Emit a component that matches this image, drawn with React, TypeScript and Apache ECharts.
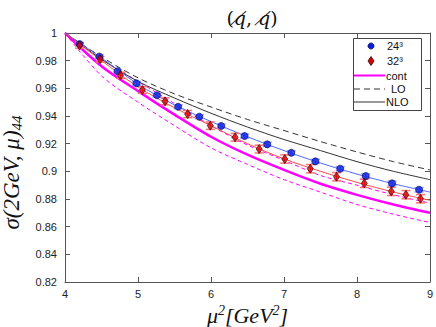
import React, { useEffect, useRef } from "react";
import * as echarts from "echarts";

const xCurve = [4, 4.5, 5, 5.5, 6, 6.5, 7, 7.5, 8, 8.5, 9];
const contMid = [1.0, 0.976, 0.958, 0.941, 0.925, 0.912, 0.901, 0.891, 0.883, 0.876, 0.87];
const contLow = [1.0, 0.969, 0.95, 0.933, 0.917, 0.905, 0.894, 0.885, 0.876, 0.869, 0.863];
const contHigh = [1.0, 0.981, 0.965, 0.949, 0.933, 0.919, 0.908, 0.897, 0.89, 0.883, 0.877];
const loCurve = [1.0, 0.9827, 0.9676, 0.956, 0.9465, 0.9375, 0.9295, 0.9215, 0.914, 0.907, 0.901];
const nloCurve = [1.0, 0.981, 0.965, 0.953, 0.942, 0.932, 0.923, 0.915, 0.907, 0.9, 0.894];
const fit24 = [1.0, 0.982, 0.963, 0.948, 0.936, 0.925, 0.915, 0.906, 0.898, 0.891, 0.885];
const fit32 = [1.0, 0.98, 0.961, 0.946, 0.933, 0.92, 0.909, 0.9, 0.892, 0.885, 0.879];

const x24 = [4.2, 4.47, 4.72, 4.98, 5.26, 5.55, 5.84, 6.14, 6.46, 6.77, 7.1, 7.43, 7.77, 8.12, 8.48, 8.85];
const y24 = [0.992, 0.983, 0.9723, 0.9636, 0.955, 0.9467, 0.9395, 0.9328, 0.9255, 0.9195, 0.9134, 0.9072, 0.9019, 0.8966, 0.8913, 0.8867];
const e24 = [0.0012, 0.0012, 0.0013, 0.0013, 0.0013, 0.0014, 0.0014, 0.0014, 0.0015, 0.0015, 0.0015, 0.0015, 0.0015, 0.0016, 0.0016, 0.0016];

const x32 = [4.2, 4.48, 4.76, 5.06, 5.37, 5.68, 5.99, 6.33, 6.66, 7.01, 7.36, 7.72, 8.1, 8.47, 8.67, 8.87];
const y32 = [0.991, 0.981, 0.9694, 0.9588, 0.9506, 0.9414, 0.933, 0.9246, 0.9161, 0.9089, 0.9019, 0.8961, 0.8913, 0.8855, 0.8831, 0.8802];
const e32 = [0.002, 0.002, 0.0022, 0.0024, 0.0025, 0.0026, 0.0027, 0.0028, 0.0028, 0.003, 0.003, 0.003, 0.003, 0.003, 0.003, 0.003];

const xTicks = [4, 5, 6, 7, 8, 9];
const legendNames = ["24³", "32³", "cont", "LO", "NLO"];

const pairs = (xs: number[], ys: number[]) => xs.map((x, i) => [x, ys[i]]);

function errSeries(name: string, xs: number[], ys: number[], es: number[], barColor: string, capColor: string) {
  return {
    type: "custom",
    name,
    data: xs.map((x, i) => [x, ys[i], es[i]]),
    encode: { x: 0, y: 1 },
    z: 3,
    renderItem: (params: any, api: any) => {
      const x = api.value(0);
      const y = api.value(1);
      const e = api.value(2);
      const top = api.coord([x, y + e]);
      const bot = api.coord([x, y - e]);
      const hw = 4.5;
      return {
        type: "group",
        children: [
          { type: "line", shape: { x1: top[0], y1: top[1], x2: bot[0], y2: bot[1] }, style: { stroke: barColor, lineWidth: 1 } },
          { type: "line", shape: { x1: top[0] - hw, y1: top[1], x2: top[0] + hw, y2: top[1] }, style: { stroke: capColor, lineWidth: 1.5 } },
          { type: "line", shape: { x1: bot[0] - hw, y1: bot[1], x2: bot[0] + hw, y2: bot[1] }, style: { stroke: capColor, lineWidth: 1.5 } },
        ],
      };
    },
  };
}

export default function App() {
  const ref = useRef<HTMLDivElement>(null);
  useEffect(() => {
    if (!ref.current) return;
    const chart = echarts.init(ref.current, null, { renderer: "svg" });
    const axisColor = "#555";
    const labelStyle = { fontFamily: "Liberation Sans", fontSize: 11, color: "#222" };
    const lineSeries = (name: string, ys: number[], color: string, width: number, type: any, z = 2) => ({
      type: "line",
      name,
      data: pairs(xCurve, ys),
      smooth: 0.3,
      symbol: "none",
      z,
      lineStyle: { color, width, type },
      itemStyle: { color },
    });

    // legend drawn with graphic elements
    const lx0 = 353;
    const lx1 = 421;
    const ly0 = 38;
    const ly1 = 110;
    const rowY = [46, 61, 75.5, 89, 102];
    const textX = 386;
    const txt = (i: number, x: number) => ({
      type: "text",
      x,
      y: rowY[i],
      style: { text: legendNames[i], fontFamily: "Liberation Sans", fontSize: 11, fill: "#111", verticalAlign: "middle", align: "left" },
    });
    const graphic = [
      { type: "rect", shape: { x: lx0 + 0.5, y: ly0 + 0.5, width: lx1 - lx0, height: ly1 - ly0 }, style: { fill: "#fff", stroke: "#444", lineWidth: 1 }, z: 10 },
      { type: "circle", shape: { cx: 371, cy: rowY[0], r: 3 }, style: { fill: "#0a1ee0", stroke: "#000060", lineWidth: 0.8 }, z: 11 },
      { type: "polygon", shape: { points: [[371, rowY[1] - 4.5], [374, rowY[1]], [371, rowY[1] + 4.5], [368, rowY[1]]] }, style: { fill: "#e00000", stroke: "#200000", lineWidth: 0.8 }, z: 11 },
      { type: "line", shape: { x1: 354, y1: rowY[2], x2: 385, y2: rowY[2] }, style: { stroke: "#ff00ff", lineWidth: 2 }, z: 11 },
      { type: "line", shape: { x1: 354, y1: rowY[3], x2: 385, y2: rowY[3] }, style: { stroke: "#333", lineWidth: 1, lineDash: [6, 4] }, z: 11 },
      { type: "line", shape: { x1: 354, y1: rowY[4], x2: 385, y2: rowY[4] }, style: { stroke: "#333", lineWidth: 1 }, z: 11 },
      { ...txt(0, 387), z: 11 },
      { ...txt(1, 387), z: 11 },
      { ...txt(2, textX), z: 11 },
      { ...txt(3, 391), z: 11 },
      { ...txt(4, textX), z: 11 },
    ];

    chart.setOption({
      animation: false,
      backgroundColor: "#fff",
      title: {
        text: "({i|q̸}, {i|q̸})",
        left: 247,
        top: 3,
        textAlign: "center",
        textStyle: {
          fontFamily: "DejaVu Serif",
          fontSize: 19,
          fontWeight: "normal",
          color: "#111",
          rich: { i: { fontFamily: "DejaVu Serif", fontStyle: "italic", fontSize: 19, color: "#111" } },
        },
      },
      grid: { left: 65, right: 6, top: 33, bottom: 45, containLabel: false, outerBoundsMode: "none" },
      graphic,
      xAxis: [
        {
          type: "value",
          min: 4,
          max: 9,
          interval: 1,
          name: "μ{s|2}[GeV{s|2}]",
          nameLocation: "middle",
          nameGap: 19,
          nameTextStyle: {
            fontFamily: "Liberation Serif",
            fontStyle: "italic",
            fontSize: 22,
            lineHeight: 24,
            color: "#111",
            rich: { s: { fontFamily: "Liberation Serif", fontStyle: "italic", fontSize: 14, lineHeight: 24, verticalAlign: "top", color: "#111" } },
          },
          axisLine: { lineStyle: { color: axisColor } },
          axisTick: { inside: true, length: 5, lineStyle: { color: axisColor } },
          axisLabel: { ...labelStyle, margin: 6, formatter: (v: number) => (xTicks.includes(v) ? String(v) : "") },
          splitLine: { show: false },
        },
        {
          type: "value",
          position: "top",
          min: 4,
          max: 9,
          interval: 1,
          axisLine: { show: true, lineStyle: { color: axisColor } },
          axisTick: { inside: true, length: 5, lineStyle: { color: axisColor } },
          axisLabel: { show: false },
          splitLine: { show: false },
        },
      ],
      yAxis: [
        {
          type: "value",
          min: 0.82,
          max: 1,
          interval: 0.02,
          name: "σ(2GeV, μ){s|44}",
          nameLocation: "middle",
          nameRotate: 90,
          nameGap: 35,
          nameTextStyle: {
            fontFamily: "Liberation Serif",
            fontStyle: "italic",
            fontSize: 23,
            color: "#111",
            padding: [0, 30, 0, 0],
            rich: { s: { fontFamily: "Liberation Serif", fontStyle: "italic", fontSize: 15, verticalAlign: "bottom", padding: [11, 0, 0, 0], color: "#111" } },
          },
          axisLine: { show: true, lineStyle: { color: axisColor } },
          axisTick: { inside: true, length: 5, lineStyle: { color: axisColor } },
          axisLabel: { ...labelStyle, margin: 8, formatter: (v: number) => String(parseFloat(v.toFixed(2))) },
          splitLine: { show: false },
        },
        {
          type: "value",
          position: "right",
          min: 0.82,
          max: 1,
          interval: 0.02,
          axisLine: { show: true, lineStyle: { color: axisColor } },
          axisTick: { inside: true, length: 5, lineStyle: { color: axisColor } },
          axisLabel: { show: false },
          splitLine: { show: false },
        },
      ],
      series: [
        lineSeries("contLow", contLow, "#ff00ff", 1, [4, 3]),
        lineSeries("contHigh", contHigh, "#ff00ff", 1, [4, 3]),
        lineSeries("cont", contMid, "#ff00ff", 2.5, "solid"),
        lineSeries("LO", loCurve, "#333", 1, [6, 4]),
        lineSeries("NLO", nloCurve, "#333", 1, "solid"),
        lineSeries("fit24", fit24, "#4f68ff", 1, "solid"),
        lineSeries("fit32", fit32, "#ff4a4a", 1, "solid"),
        errSeries("err24", x24, y24, e24, "#5a6cff", "#8a9cff"),
        errSeries("err32", x32, y32, e32, "#e83030", "#ff7070"),
        {
          type: "scatter",
          name: "24³",
          data: pairs(x24, y24),
          symbol: "circle",
          symbolSize: 7,
          z: 4,
          itemStyle: { color: "#0a1ee0", borderColor: "#000060", borderWidth: 0.8 },
        },
        {
          type: "scatter",
          name: "32³",
          data: pairs(x32, y32),
          symbol: "diamond",
          symbolSize: [6, 9],
          z: 4,
          itemStyle: { color: "#e00000", borderColor: "#200000", borderWidth: 0.8 },
        },
      ],
    });
    return () => chart.dispose();
  }, []);
  return <div ref={ref} style={{ position: "absolute", left: 0, top: 0, width: 436, height: 327 }} />;
}
